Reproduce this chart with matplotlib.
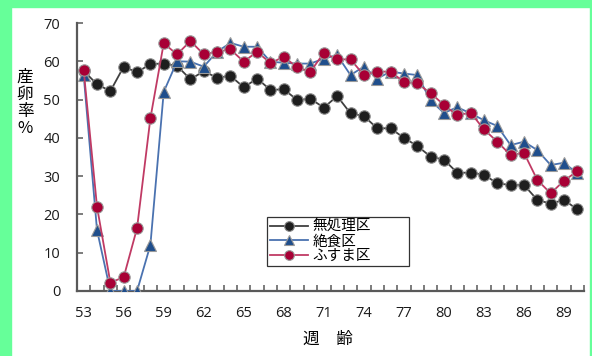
import matplotlib
matplotlib.use("Agg")
import matplotlib.pyplot as plt
from matplotlib.patches import Rectangle

weeks = list(range(53, 91))
untreated = [57.5, 54.0, 52.2, 58.6, 57.1, 59.3, 59.4, 58.8, 55.3, 57.4, 55.7, 56.2, 53.2, 55.5,
             52.5, 52.7, 49.9, 50.2, 47.9, 50.9, 46.4, 45.7, 42.5, 42.5, 40.0, 37.9, 35.1, 34.3,
             30.9, 30.9, 30.4, 28.1, 27.7, 27.7, 23.8, 22.8, 23.8, 21.3]
fasting = [56.4, 15.9, 0.0, 0.0, 0.0, 12.0, 52.0, 60.0, 59.9, 58.6, 62.5, 64.8, 63.8, 63.8,
           59.9, 59.6, 59.4, 59.4, 60.7, 61.6, 56.4, 58.6, 55.5, 57.3, 56.8, 56.4, 49.8, 46.5,
           48.0, 46.4, 44.6, 43.1, 38.1, 39.0, 36.8, 32.9, 33.5, 30.7]
bran = [57.7, 22.0, 2.2, 3.6, 16.4, 45.1, 64.7, 61.8, 65.3, 61.8, 62.5, 63.1, 59.9, 62.5,
        59.5, 61.2, 58.4, 57.3, 62.2, 60.5, 60.5, 56.4, 57.3, 57.3, 54.6, 54.2, 51.7, 48.6,
        45.9, 46.6, 42.2, 39.0, 35.5, 36.1, 29.0, 25.5, 28.8, 31.3]
series_names = ["無処理区", "絶食区", "ふすま区"]
y_ticks = [0, 10, 20, 30, 40, 50, 60, 70]

plt.rcParams['font.family'] = ['Noto Sans CJK JP', 'DejaVu Sans']

fig = plt.figure(figsize=(5.92, 3.56), dpi=100)
fig.patch.set_facecolor("white")
green = "#66FF99"
fig.patches.append(Rectangle((0, 0), 11/592, 1, transform=fig.transFigure, color=green, zorder=0))
fig.patches.append(Rectangle((0, 1 - 7/356), 1, 7/356, transform=fig.transFigure, color=green, zorder=0))
fig.patches.append(Rectangle((590/592, 0), 2/592, 1, transform=fig.transFigure, color=green, zorder=0))

ax = fig.add_axes([77/592, 1 - 291/356, 507/592, 268/356])
ax.set_facecolor("none")
x = list(range(len(weeks)))

ax.plot(x, untreated, color="#404040", lw=1.3, marker="o", ms=8.2,
        mfc="#1e1e1e", mec="#8a8a8a", mew=0.8, label=series_names[0], zorder=3)
ax.plot(x, fasting, color="#4a72b0", lw=1.3, marker="^", ms=8.2,
        mfc="#1f4e8c", mec="#9a9a9a", mew=0.8, label=series_names[1], zorder=4)
ax.plot(x, bran, color="#c03a64", lw=1.3, marker="o", ms=8.2,
        mfc="#a80035", mec="#9a9a9a", mew=0.8, label=series_names[2], zorder=5)

ax.set_xlim(-0.5, len(weeks) - 0.5)
ax.set_ylim(0, 70)
ax.set_yticks(y_ticks)
ax.set_xticks([i - 0.5 for i in range(len(weeks) + 1)], minor=True)
ax.set_xticks(x[::3])
ax.set_xticklabels([str(w) for w in weeks[::3]])
ax.tick_params(axis='x', which='major', length=0, pad=11, labelsize=10.5, labelcolor="#1a1a1a")
ax.tick_params(axis='x', which='minor', direction='in', length=4, width=1.1, color="#595959")
ax.tick_params(axis='y', direction='in', length=4, width=1.1, color="#595959",
               pad=12, labelsize=10.5, labelcolor="#1a1a1a")
for lbl in ax.get_xticklabels() + ax.get_yticklabels():
    lbl.set_family(['Open Sans', 'DejaVu Sans'])
for s in ["top", "right"]:
    ax.spines[s].set_visible(False)
for s in ["left", "bottom"]:
    ax.spines[s].set_color("#595959")
    ax.spines[s].set_linewidth(1.6)

leg = ax.legend(loc="lower left", bbox_to_anchor=(0.375, 0.093, 0.28, 0.232), mode="expand",
                fontsize=10.5, frameon=True, fancybox=False, edgecolor="black",
                borderpad=0.2, labelspacing=0.05, handlelength=2.6, handletextpad=0.3,
                borderaxespad=0, markerscale=0.85)
leg.get_frame().set_linewidth(0.9)

fig.text(25/592, 1 - 103/356, "産\n卵\n率\n%", ha="center", va="center", fontsize=12,
         linespacing=1.0)
fig.text(328/592, 1 - 339/356, "週　齢", ha="center", va="center", fontsize=12)

fig.savefig("out.png", dpi=100)
